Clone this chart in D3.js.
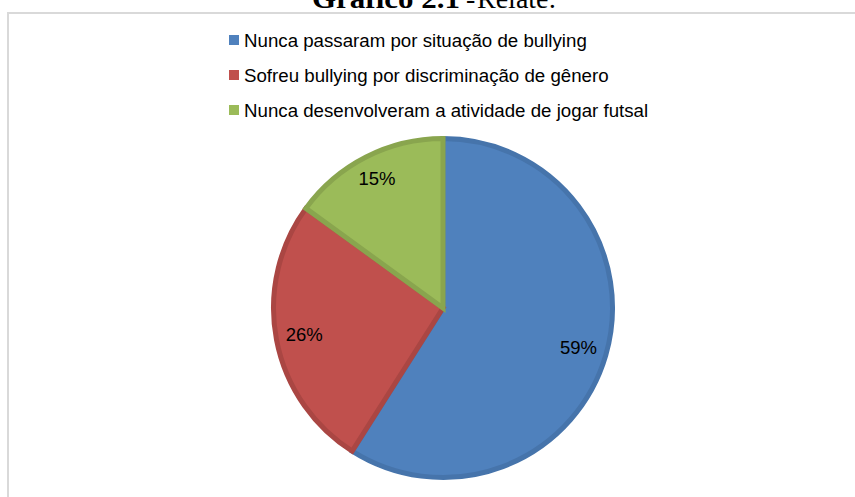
<!DOCTYPE html>
<html>
<head>
<meta charset="utf-8">
<script src="https://cdn.jsdelivr.net/npm/d3@7"></script>
<style>
  html, body { margin: 0; padding: 0; background: #ffffff; }
  svg { display: block; }
</style>
</head>
<body>
<svg id="chart" width="855" height="497"></svg>
<script>
// Respostas sobre bullying no futsal
const categories = [
  "Nunca passaram por situação de bullying",
  "Sofreu bullying por discriminação de gênero",
  "Nunca desenvolveram a atividade de jogar futsal"
];
const values = [59, 26, 15];
const fillColors = ["#4f81bd", "#c0504d", "#9bbb59"];
const strokeColors = ["#4674ab", "#aa4643", "#89a54e"];

const svg = d3.select("#chart");
const W = 855, H = 497;

// Título (a parte de cima fica fora da página)
const serif = "'Liberation Serif', 'Times New Roman', serif";
svg.append("text")
  .attr("x", 312).attr("y", 7.5)
  .attr("font-family", serif).attr("font-size", 28).attr("font-weight", "bold")
  .attr("textLength", 148).attr("lengthAdjust", "spacingAndGlyphs")
  .text("Gráfico 2.1");
svg.append("text")
  .attr("x", 466).attr("y", 7.5)
  .attr("font-family", serif).attr("font-size", 28)
  .text("-");
svg.append("text")
  .attr("x", 477).attr("y", 7.5)
  .attr("font-family", serif).attr("font-size", 28)
  .text("Relate:");

// Moldura da área do gráfico
svg.append("rect")
  .attr("x", 8)
  .attr("y", 13)
  .attr("width", W + 20)
  .attr("height", H + 20)
  .attr("fill", "none")
  .attr("stroke", "#d9d9d9")
  .attr("stroke-width", 2);

// Legenda
const sans = "'Liberation Sans', Arial, sans-serif";
const legend = svg.append("g").attr("transform", "translate(229,0)");
const rowY = d3.scalePoint().domain(categories).range([40, 110]);
const rows = legend.selectAll("g.item")
  .data(categories)
  .join("g")
  .attr("class", "item")
  .attr("transform", d => `translate(0,${rowY(d)})`);
rows.append("rect")
  .attr("x", 0).attr("y", -5)
  .attr("width", 10).attr("height", 10)
  .attr("fill", (d, i) => fillColors[i]);
rows.append("text")
  .attr("x", 15)
  .attr("y", 0)
  .attr("dy", "0.35em")
  .attr("font-family", sans)
  .attr("font-size", 18.7)
  .attr("fill", "#000")
  .text(d => d);

// Pizza
const cx = 443, cy = 308, R = 172, sw = 5;
const pie = d3.pie().sort(null).value(d => d)(values);
const arc = d3.arc().innerRadius(0).outerRadius(R - sw / 2);
const g = svg.append("g").attr("transform", `translate(${cx},${cy})`);

g.selectAll("path.slice")
  .data(pie)
  .join("path")
  .attr("class", "slice")
  .attr("d", arc)
  .attr("fill", (d, i) => fillColors[i])
  .attr("stroke", (d, i) => strokeColors[i])
  .attr("stroke-width", sw)
  .attr("stroke-linejoin", "miter");

// Rótulos de porcentagem: cada rótulo vai o mais longe possível
// ao longo da bissetriz da fatia, mantendo a caixa do texto dentro do círculo
const fitRadius = R - 11;
const labels = g.selectAll("text.pct")
  .data(pie)
  .join("text")
  .attr("class", "pct")
  .attr("text-anchor", "middle")
  .attr("dy", "0.35em")
  .attr("font-family", sans)
  .attr("font-size", 18.5)
  .attr("fill", "#000")
  .text(d => d.data + "%");

labels.each(function (d) {
  const bb = this.getBBox();
  const hw = bb.width / 2, hh = 7.5;
  const a = (d.startAngle + d.endAngle) / 2;
  const ux = Math.sin(a), uy = -Math.cos(a);
  const far = dist => {
    let m = 0;
    for (const sx of [-1, 1]) for (const sy of [-1, 1]) {
      const x = ux * dist + sx * hw, y = uy * dist + sy * hh;
      m = Math.max(m, Math.hypot(x, y));
    }
    return m;
  };
  let lo = 0, hi = R;
  for (let k = 0; k < 40; k++) {
    const mid = (lo + hi) / 2;
    if (far(mid) <= fitRadius) lo = mid; else hi = mid;
  }
  d3.select(this).attr("transform", `translate(${ux * lo},${uy * lo})`);
});
</script>
</body>
</html>
